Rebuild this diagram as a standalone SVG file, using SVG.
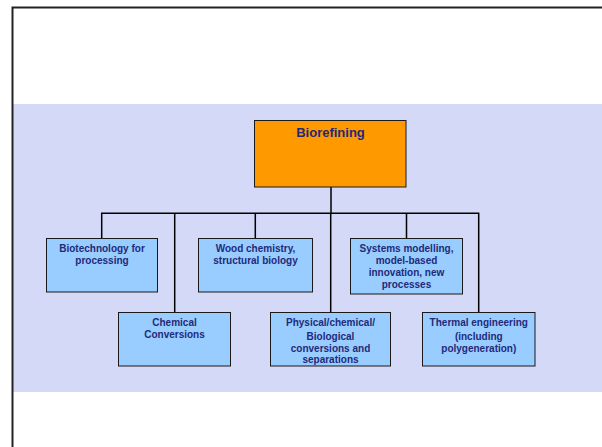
<svg xmlns="http://www.w3.org/2000/svg" width="602" height="447" viewBox="0 0 602 447">
<style>
.box{fill:#99CCFF;stroke:#1a1a1a;stroke-width:1}
.top{fill:#FF9900;stroke:#1a1a1a;stroke-width:1}
text{font-family:"Liberation Sans",Arial,sans-serif;font-weight:bold;fill:#1F2A7A;text-anchor:middle;font-size:10px}
.t{font-size:13px}
.c{stroke:#000;stroke-width:1.5;fill:none}
</style>
<rect x="0" y="0" width="602" height="447" fill="#fff"/>
<rect x="12" y="104" width="590" height="288" fill="#D4D9F8"/>
<path d="M12.5,447 V7.5 H602" fill="none" stroke="#222" stroke-width="2"/>
<g id="connectors">
<path class="c" d="M331,187 V213" stroke-width="2.2"/>
<path class="c" d="M101.7,238.5 V213.3 H478.7 V312.5"/>
<path class="c" d="M174.7,213.3 V312.5"/>
<path class="c" d="M255.3,213.3 V238.5"/>
<path class="c" d="M330.7,213.3 V312.5"/>
<path class="c" d="M406.5,213.3 V238.5"/>
</g>
<g id="biorefining">
<rect class="top" x="254.5" y="120.5" width="151.5" height="66.5"/>
<text class="t" x="330.5" y="136.5">Biorefining</text>
</g>
<g id="biotech">
<rect class="box" x="46.5" y="238.5" width="111" height="53.5"/>
<text x="102" y="252.3">Biotechnology for</text>
<text x="102" y="264.2">processing</text>
</g>
<g id="wood">
<rect class="box" x="198.5" y="238.5" width="114" height="53.5"/>
<text x="255.5" y="252.3">Wood chemistry,</text>
<text x="255.5" y="264.2">structural biology</text>
</g>
<g id="systems">
<rect class="box" x="350.5" y="238.5" width="112" height="55.5"/>
<text x="406.5" y="252.3">Systems  modelling,</text>
<text x="406.5" y="264.1">model-based</text>
<text x="406.5" y="275.9">innovation, new</text>
<text x="406.5" y="287.7">processes</text>
</g>
<g id="chemical">
<rect class="box" x="118.5" y="312.5" width="112" height="53.5"/>
<text x="174.5" y="326">Chemical</text>
<text x="174.5" y="337.8">Conversions</text>
</g>
<g id="physical">
<rect class="box" x="270.5" y="312.5" width="120" height="53.5"/>
<text x="330.5" y="326">Physical/chemical/</text>
<text x="330.5" y="340">Biological</text>
<text x="330.5" y="351.7">conversions and</text>
<text x="330.5" y="363.4">separations</text>
</g>
<g id="thermal">
<rect class="box" x="422.5" y="312.5" width="112.5" height="53.5"/>
<text x="478.8" y="326">Thermal engineering</text>
<text x="478.8" y="340">(including</text>
<text x="478.8" y="351.7">polygeneration)</text>
</g>
</svg>
